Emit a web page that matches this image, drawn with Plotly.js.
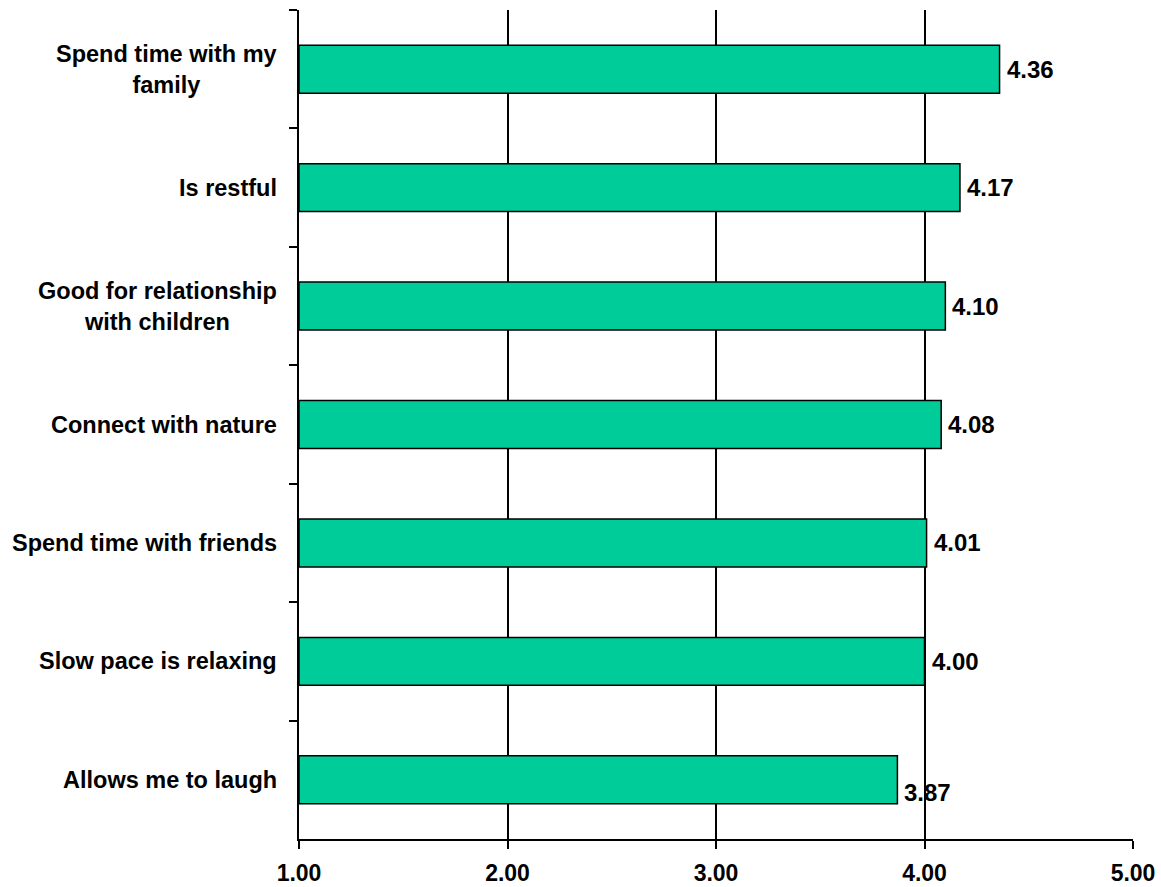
<!DOCTYPE html>
<html>
<head>
<meta charset="utf-8">
<script src="https://cdn.plot.ly/plotly-3.0.1.min.js"></script>
<style>
  html, body { margin: 0; padding: 0; background: #ffffff; }
  #chart { width: 1161px; height: 887px; }
</style>
</head>
<body>
<div id="chart"></div>
<script>
// Mean agreement scores, listed top to bottom
const categories = [
  "Spend time with my<br>family",
  "Is restful",
  "Good for relationship<br>with children",
  "Connect with nature",
  "Spend time with friends",
  "Slow pace is relaxing",
  "Allows me to laugh"
];
const scores = [4.36, 4.17, 4.10, 4.08, 4.01, 4.00, 3.87];
const xTicks = [1, 2, 3, 4, 5];

const FONT = "Liberation Sans, Arial, sans-serif";

const bar = {
  type: "bar",
  orientation: "h",
  y: categories,
  x: scores.map(v => v - 1),
  base: 1,
  width: 0.405,
  marker: { color: "#00CC99", line: { color: "#000000", width: 1.5 } },
  hoverinfo: "skip"
};

// Category names drawn as centred multi-line labels left of the axis
const nameLabels = categories.map(c => ({
  xref: "paper", yref: "y",
  x: 0, y: c,
  xanchor: "right", yanchor: "middle",
  xshift: -20,
  align: "center",
  text: c,
  showarrow: false,
  font: { family: FONT, size: 23.5, color: "#000000", weight: "bold" }
}));

// Value labels just past the end of each bar
const valueLabels = categories.map((c, i) => ({
  xref: "x", yref: "y",
  x: scores[i], y: c,
  xanchor: "left", yanchor: "middle",
  xshift: 5,
  yshift: i === categories.length - 1 ? -13 : 0,
  text: scores[i].toFixed(2),
  showarrow: false,
  font: { family: FONT, size: 24, color: "#000000", weight: "bold" }
}));

const layout = {
  width: 1161,
  height: 887,
  margin: { l: 299, r: 28, t: 10, b: 48 },
  paper_bgcolor: "#ffffff",
  plot_bgcolor: "#ffffff",
  showlegend: false,
  xaxis: {
    range: [1, 5],
    tickvals: xTicks,
    ticktext: xTicks.map(v => v.toFixed(2)),
    showgrid: true,
    gridcolor: "#000000",
    gridwidth: 2,
    zeroline: false,
    showline: true,
    linecolor: "#000000",
    linewidth: 2,
    ticks: "outside",
    ticklen: 8,
    tickwidth: 2,
    tickcolor: "#000000",
    ticklabelstandoff: 4,
    tickfont: { family: FONT, size: 23, color: "#000000", weight: "bold" },
    fixedrange: true
  },
  yaxis: {
    type: "category",
    categoryorder: "array",
    categoryarray: categories,
    autorange: "reversed",
    showticklabels: false,
    showgrid: false,
    zeroline: false,
    showline: true,
    linecolor: "#000000",
    linewidth: 2,
    ticks: "outside",
    tickson: "boundaries",
    ticklen: 8,
    tickwidth: 2,
    tickcolor: "#000000",
    fixedrange: true
  },
  annotations: nameLabels.concat(valueLabels)
};

Plotly.newPlot("chart", [bar], layout, { displayModeBar: false, staticPlot: true });
</script>
</body>
</html>
